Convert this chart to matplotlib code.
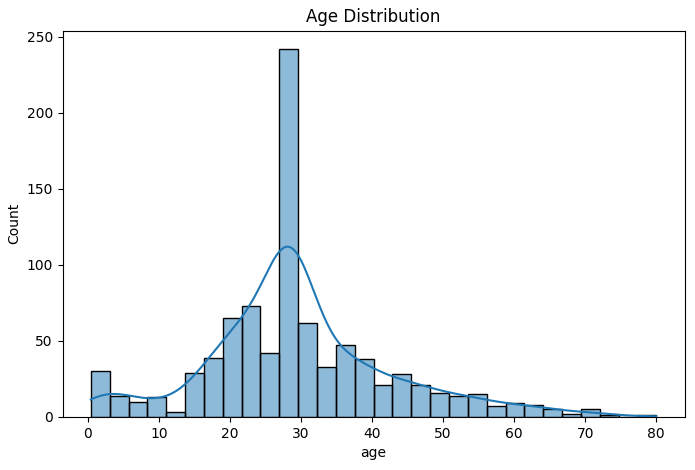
import numpy as np
import matplotlib
matplotlib.use("Agg")
import matplotlib.pyplot as plt

age_min, age_max = 0.42, 80.0
counts = [30,14,10,13,3,29,39,65,73,42,242,62,33,47,38,21,28,21,16,14,15,7,9,8,5,2,5,1,0,1]
edges = np.linspace(age_min, age_max, len(counts)+1)
w = edges[1]-edges[0]
centers = (edges[:-1]+edges[1:])/2

fig, ax = plt.subplots(figsize=(6.95,4.7), dpi=100)
fig.subplots_adjust(left=0.09, right=0.985, top=0.935, bottom=0.113)
ax.bar(edges[:-1], counts, width=w, align='edge', color='#1f77b4', alpha=0.5, edgecolor='none')
ax.bar(edges[:-1], counts, width=w, align='edge', fill=False, edgecolor='black', linewidth=1)

c = np.array(counts, float)
n = c.sum()
mean = (c*centers).sum()/n
sd = np.sqrt((c*(centers-mean)**2).sum()/n)
bw = sd*n**(-0.2)
xs = np.linspace(age_min, age_max, 300)
dens = (c[None,:]*np.exp(-0.5*((xs[:,None]-centers[None,:])/bw)**2)).sum(1)/(n*bw*np.sqrt(2*np.pi))
ax.plot(xs, dens*n*w, color='#1f77b4', lw=1.5)

ax.set_title("Age Distribution")
ax.set_xlabel("age")
ax.set_ylabel("Count")
ax.set_xticks(range(0,81,10))
fig.savefig("out.png")
